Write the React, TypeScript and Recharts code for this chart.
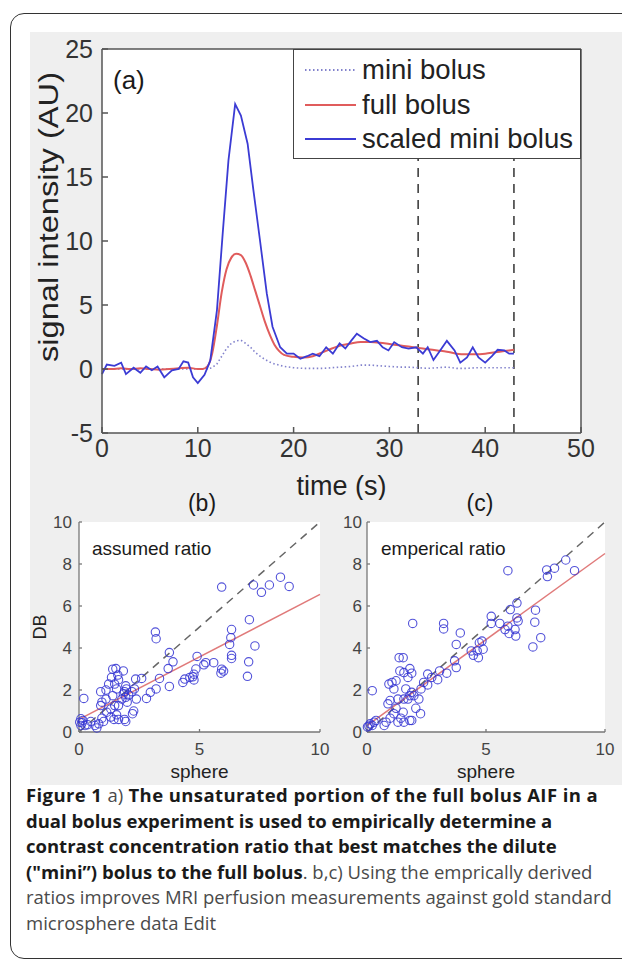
import React from 'react'
import {
  LineChart, Line, XAxis, YAxis, ReferenceLine, Legend, Label, CartesianGrid,
  ScatterChart, Scatter,
} from 'recharts'

// panel (a): signal intensity against time
const timeTicks = [0, 10, 20, 30, 40, 50]
const signalTicks = [-5, 0, 5, 10, 15, 20, 25]
const windowBounds = [33, 43]
const seriesNames = ['mini bolus', 'full bolus', 'scaled mini bolus']

const miniTime = [0, 2, 4, 6, 8, 10, 11, 11.5, 12, 12.5, 13, 13.5, 14, 14.5, 15, 15.5, 16, 16.5, 17, 17.5, 18,
  19, 20, 21, 22, 23, 24, 25, 26, 27, 28, 29, 30, 31, 32, 33, 34, 35, 36, 37, 38, 39, 40, 41, 42, 43]
const miniSignal = [0, 0, 0, 0, 0, 0, 0, 0.1, 0.4, 1.0, 1.6, 2.0, 2.2, 2.25, 2.0, 1.7, 1.3, 1.0, 0.75, 0.55, 0.4,
  0.2, 0.1, 0.05, 0.05, 0.05, 0.1, 0.15, 0.2, 0.3, 0.3, 0.25, 0.2, 0.15, 0.15, 0.1, 0.05, 0.1, 0.15, 0.05, 0.05, 0.1, 0.1, 0.1, 0.1, 0.1]

const fullTime = [0, 1, 2, 3, 4, 5, 6, 7, 8, 9, 10, 10.5, 11, 11.5, 12, 12.5, 13, 13.5, 14, 14.5, 15, 15.5, 16,
  16.5, 17, 17.5, 18, 18.5, 19, 20, 21, 22, 23, 24, 25, 26, 27, 28, 29, 30, 31, 32, 33, 34, 35, 36, 37, 38, 39, 40, 41, 42, 43]
const fullSignal = [0, 0, 0.05, 0, 0.05, 0, -0.05, 0, 0.05, 0.1, 0, 0, 0.2, 1.2, 3.4, 6.0, 7.8, 8.7, 9.0, 8.9, 8.3, 7.3, 6.1,
  4.9, 3.7, 2.7, 1.9, 1.4, 1.1, 0.95, 0.9, 1.0, 1.3, 1.6, 1.85, 2.0, 2.1, 2.1, 2.05, 1.95, 1.85, 1.75, 1.65, 1.55, 1.45, 1.35,
  1.2, 1.15, 1.15, 1.2, 1.3, 1.4, 1.5]

const scaledTime = [0, 0.5, 1.3, 2, 2.5, 3.3, 4, 4.6, 5.2, 5.8, 6.5, 7.3, 8, 8.5, 9, 9.5, 10, 10.7, 11.3, 12,
  12.6, 13.2, 13.9, 14.5, 15.2, 15.8, 16.5, 17.2, 17.8, 18.6, 19.3, 20, 20.7, 21.4, 22, 22.7, 23.4, 24.1, 24.8, 25.4,
  26, 26.6, 27.3, 28, 28.7, 29.3, 29.9, 30.5, 31.3, 32, 32.8, 33.5, 34, 34.6, 35.3, 36, 36.8, 37.4, 38.1, 38.7,
  39.3, 40, 40.7, 41.3, 42, 42.5, 43]
const scaledSignal = [-0.4, 0.35, 0.25, 0.5, -0.4, 0.1, -0.3, 0.2, -0.1, 0.2, -0.65, -0.1, 0, 0.6, 0.5, -0.65, -1.1, -0.45, 0.65, 4.6,
  10.6, 16.3, 20.7, 19.8, 17.6, 14, 10, 5.9, 3.3, 1.7, 1.2, 1.2, 0.8, 1.0, 1.2, 1.0, 1.7, 1.2, 2.0, 1.6,
  2.2, 2.75, 2.4, 2.1, 2.2, 1.7, 1.45, 2.1, 1.7, 1.6, 1.7, 1.2, 1.7, 0.7, 1.45, 2.2, 1.45, 0.5, 0.9, 1.7,
  0.9, 0.5, 1.0, 1.5, 1.45, 1.2, 1.2]

// panels (b) and (c): DB against sphere
const sphereTicks = [0, 5, 10]
const dbTicks = [0, 2, 4, 6, 8, 10]
const identityLine = [0, 10]

const assumedSphere = [5.92, 7.24, 7.57, 7.9, 8.36, 8.72, 7.07, 6.33, 6.3, 6.25,
  7.3, 7.04, 6.99, 6.33, 6.33, 5.92, 5.89, 6.0, 5.59, 5.26,
  5.18, 4.9, 4.85, 4.77, 4.72, 4.6, 4.39, 4.31, 4.77, 3.17,
  3.2, 3.75, 3.9, 3.7, 3.75, 3.34, 3.2, 2.96, 2.8, 2.6,
  2.35, 2.3, 2.2, 2.38, 2.27, 2.22, 1.94, 1.89, 1.84, 1.89,
  1.97, 1.94, 1.84, 1.61, 1.53, 1.4, 1.35, 1.48, 1.64, 1.56,
  1.4, 1.78, 1.94, 2.06, 2.0, 1.64, 1.48, 1.32, 1.12, 0.9,
  1.12, 1.23, 0.95, 0.9, 1.15, 0.95, 1.32, 1.56, 1.64, 1.45,
  1.02, 0.82, 0.66, 0.74, 0.49, 0.36, 0.2, 0.13, 0.08, 0.16,
  0.25, 0.08, 0.03]
const assumedDB = [6.9, 7.0, 6.65, 7.0, 7.37, 6.93, 5.35, 4.88, 4.49, 4.17,
  4.1, 3.34, 2.65, 3.65, 3.5, 2.99, 2.8, 2.9, 3.3, 3.3,
  3.2, 3.6, 3.0, 2.75, 2.63, 2.6, 2.52, 2.36, 2.48, 4.76,
  4.44, 3.78, 3.34, 3.02, 2.17, 2.55, 2.05, 1.89, 1.6, 2.55,
  2.52, 2.05, 1.92, 1.57, 1.0, 0.87, 0.5, 0.6, 1.81, 1.92,
  2.05, 2.2, 2.91, 2.71, 3.02, 2.99, 2.6, 2.28, 2.49, 2.05,
  1.73, 1.57, 1.65, 1.76, 1.42, 1.26, 1.26, 1.1, 1.57, 1.92,
  2.0, 2.28, 1.42, 1.26, 0.94, 0.66, 0.71, 0.82, 0.6, 0.6,
  0.5, 0.39, 0.31, 0.19, 0.5, 0.35, 1.6, 0.44, 0.63, 0.55,
  0.31, 0.31, 0.47]
const assumedFit = [0.6, 6.55] // DB at sphere = 0 and 10

const empiricalSphere = [7.55, 5.92, 7.88, 8.35, 8.72, 7.58, 7.08, 7.05, 7.3, 6.97,
  6.3, 6.02, 6.3, 6.35, 6.22, 6.25, 5.92, 5.8, 5.97, 5.58,
  5.22, 5.22, 4.83, 4.72, 4.88, 4.63, 4.38, 4.68, 4.47, 3.22,
  3.22, 1.92, 3.92, 3.75, 3.68, 3.75, 3.35, 3.05, 2.97, 2.72,
  2.55, 2.38, 2.27, 2.55, 2.18, 2.25, 2.05, 1.8, 1.88, 1.52,
  1.42, 1.55, 1.3, 1.35, 1.52, 1.38, 1.55, 1.8, 1.88, 1.72,
  1.22, 1.05, 0.92, 1.13, 1.63, 1.88, 1.8, 1.97, 1.72, 1.55,
  1.3, 0.97, 0.88, 1.22, 1.13, 0.97, 0.8, 0.72, 0.22, 0.3,
  0.13, 0.08, 0.22, 0.02, 0.38]
const empiricalDB = [7.72, 7.68, 7.8, 8.19, 7.68, 7.4, 5.8, 5.23, 4.49, 4.05,
  6.14, 5.83, 5.43, 5.28, 4.88, 4.57, 5.04, 4.88, 4.69, 5.17,
  5.17, 5.51, 4.33, 4.25, 3.94, 3.86, 3.86, 3.54, 3.65, 5.17,
  4.91, 5.17, 4.72, 4.17, 3.39, 3.07, 2.8, 2.91, 2.49, 2.6,
  2.76, 2.36, 2.05, 2.24, 1.57, 0.87, 1.13, 0.55, 0.55, 0.94,
  0.66, 0.47, 0.47, 3.54, 3.54, 2.91, 2.83, 3.02, 2.8, 2.6,
  2.44, 2.36, 2.28, 2.05, 2.05, 1.89, 1.73, 1.73, 1.57, 1.57,
  1.57, 1.5, 1.34, 1.13, 0.87, 0.66, 0.47, 0.31, 1.97, 0.47,
  0.39, 0.28, 0.31, 0.24, 0.55]
const empiricalFit = [0.3, 8.5]

const SANS = '"Liberation Sans", Arial, sans-serif'
const CAPTION_FONT = '"Open Sans", "Noto Sans", sans-serif'
const AXIS = '#555'
const tickA = { fill: '#333', fontSize: 25, fontFamily: SANS }
const tickS = { fill: '#444', fontSize: 17, fontFamily: SANS }

const series = (ts: number[], vs: number[]) => ts.map((t, i) => ({ t, v: vs[i] }))
const points = (xs: number[], ys: number[]) => xs.map((x, i) => ({ x, y: ys[i] }))

function AifLegend(props: any) {
  const items = props.payload || []
  return (
    <div style={{
      width: 288, height: 110, boxSizing: 'border-box', background: '#fff',
      border: '1.5px solid #444', paddingTop: 3, fontFamily: SANS,
    }}>
      {items.map((it: any) => (
        <div key={it.value} style={{ display: 'flex', alignItems: 'center', height: 34.5 }}>
          <svg width={62} height={10} style={{ marginLeft: 11 }}>
            <line x1={0} y1={5} x2={51} y2={5} stroke={it.color} strokeWidth={2}
              strokeDasharray={it.payload?.strokeDasharray} />
          </svg>
          <span style={{ fontSize: 27.5, color: '#222', marginLeft: -5 }}>{it.value}</span>
        </div>
      ))}
    </div>
  )
}

function AifPanel() {
  return (
    <div style={{ position: 'absolute', left: 0, top: 0 }}>
      <LineChart width={622} height={500} margin={{ top: 19, right: 31, bottom: 0, left: 62 }}>
        <CartesianGrid horizontal={false} vertical={false} fill="#fff" />
        <XAxis type="number" dataKey="t" domain={[0, 50]} ticks={timeTicks} height={67}
          stroke={AXIS} strokeWidth={1.5} tickSize={-6} tickMargin={12.5} tick={tickA}>
          <Label value="time (s)" position="insideBottom" offset={5} fill="#222" fontSize={27} fontFamily={SANS} />
        </XAxis>
        <XAxis xAxisId="top" orientation="top" type="number" domain={[0, 50]} ticks={timeTicks} height={30}
          stroke={AXIS} strokeWidth={1.5} tickSize={-6} tick={false} />
        <YAxis type="number" domain={[-5, 25]} ticks={signalTicks} width={40}
          stroke={AXIS} strokeWidth={1.5} tickSize={-6} tickMargin={15} tick={tickA}>
          <Label value="signal intensity (AU)" angle={-90} position="insideLeft" offset={-14} dy={-24}
            textLength={290} lengthAdjust="spacingAndGlyphs"
            style={{ textAnchor: 'middle' }} fill="#222" fontSize={27} fontFamily={SANS} />
        </YAxis>
        <YAxis yAxisId="right" orientation="right" type="number" domain={[-5, 25]} ticks={signalTicks} width={10}
          stroke={AXIS} strokeWidth={1.5} tickSize={-6} tick={false} />
        {windowBounds.map(t => (
          <ReferenceLine key={t} x={t} stroke="#333" strokeWidth={1.5} strokeDasharray="9 7" />
        ))}
        <Line data={series(miniTime, miniSignal)} dataKey="v" name={seriesNames[0]} stroke="#8282cc"
          strokeWidth={1.6} strokeDasharray="1.5 2.5" dot={false} isAnimationActive={false} />
        <Line data={series(fullTime, fullSignal)} dataKey="v" name={seriesNames[1]} stroke="#e05c5c"
          strokeWidth={2} type="monotone" dot={false} isAnimationActive={false} />
        <Line data={series(scaledTime, scaledSignal)} dataKey="v" name={seriesNames[2]} stroke="#3b3bd4"
          strokeWidth={1.8} dot={false} isAnimationActive={false} />
        <Legend layout="vertical" verticalAlign="middle" align="center" content={AifLegend}
          itemSorter={(item: any) => seriesNames.indexOf(item.value)}
          wrapperStyle={{ left: 293, top: 49, width: 288, height: 110 }} />
      </LineChart>
    </div>
  )
}

const Ring = (p: any) => (
  <circle cx={p.cx} cy={p.cy} r={4.2} fill="none" stroke="#3434d2" strokeWidth={1.1} strokeOpacity={0.85} />
)

function RatioPanel(props: {
  left: number, width: number, marginLeft: number, marginRight: number, tickGap: number,
  sphere: number[], db: number[], fit: number[], yLabel?: string,
}) {
  const { left, width, marginLeft, marginRight, tickGap, sphere, db, fit, yLabel } = props
  return (
    <div style={{ position: 'absolute', left, top: 490 }}>
      <ScatterChart width={width} height={300} margin={{ top: 32, right: marginRight, bottom: 0, left: marginLeft }}>
        <CartesianGrid horizontal={false} vertical={false} fill="#fff" />
        <XAxis type="number" dataKey="x" domain={[0, 10]} ticks={sphereTicks} height={58}
          stroke="#777" strokeWidth={1.3} tickSize={-3} tickMargin={14} tick={tickS}>
          <Label value="sphere" position="insideBottom" offset={12} fill="#222" fontSize={19} fontFamily={SANS} />
        </XAxis>
        <YAxis type="number" dataKey="y" domain={[0, 10]} ticks={dbTicks} width={30}
          stroke="#777" strokeWidth={1.3} tickSize={-3} tickMargin={tickGap} tick={tickS}>
          {yLabel && (
            <Label value={yLabel} angle={-90} position="insideLeft" offset={-9}
              style={{ textAnchor: 'middle' }} fill="#222" fontSize={18} fontFamily={SANS} />
          )}
        </YAxis>
        <ReferenceLine segment={[{ x: identityLine[0], y: identityLine[0] }, { x: identityLine[1], y: identityLine[1] }]}
          stroke="#666" strokeWidth={1.5} strokeDasharray="8 6" />
        <ReferenceLine segment={[{ x: 0, y: fit[0] }, { x: 10, y: fit[1] }]} stroke="#e07a7a" strokeWidth={1.5} />
        <Scatter data={points(sphere, db)} shape={Ring} isAnimationActive={false} />
      </ScatterChart>
    </div>
  )
}

function Tag(props: { x: number, y: number, size: number, center?: boolean, children: React.ReactNode }) {
  return (
    <div style={{
      position: 'absolute', left: props.x, top: props.y, fontSize: props.size, lineHeight: 1,
      transform: props.center ? 'translate(-50%, -50%)' : 'translateY(-50%)', whiteSpace: 'nowrap',
      color: '#1a1a1a', fontFamily: SANS,
    }}>{props.children}</div>
  )
}

function Caption() {
  const line: React.CSSProperties = { whiteSpace: 'nowrap', height: 25.5 }
  const plain: React.CSSProperties = { fontWeight: 400, color: '#4a4a4a', letterSpacing: 0 }
  return (
    <div style={{
      position: 'absolute', left: 26, top: 782, fontFamily: CAPTION_FONT, fontSize: 18.5,
      lineHeight: '25.5px', color: '#1a1a1a', fontWeight: 700,
    }}>
      <div style={{ ...line, letterSpacing: 0.4 }}>Figure 1 <span style={plain}>a)</span> The unsaturated portion of the full bolus AIF in a</div>
      <div style={line}>dual bolus experiment is used to empirically determine a</div>
      <div style={line}>contrast concentration ratio that best matches the dilute</div>
      <div style={line}>("mini”) bolus to the full bolus<span style={plain}>. b,c) Using the emprically derived</span></div>
      <div style={{ ...line, ...plain }}>ratios improves MRI perfusion measurements against gold standard</div>
      <div style={{ ...line, ...plain }}>microsphere data Edit</div>
    </div>
  )
}

export default function App() {
  return (
    <div style={{
      position: 'absolute', left: 0, top: 0, width: 622, height: 962, background: '#fff',
      overflow: 'hidden', fontFamily: SANS,
    }}>
      <div style={{
        position: 'absolute', left: 10, top: 13, width: 660, height: 944,
        border: '1.5px solid #333', borderRadius: 14,
      }} />
      <div style={{ position: 'absolute', left: 30, top: 32, width: 600, height: 753, background: '#efefef' }} />
      <AifPanel />
      <Tag x={113} y={80} size={26}>(a)</Tag>
      <RatioPanel left={0} width={330} marginLeft={49} marginRight={10} tickGap={10}
        sphere={assumedSphere} db={assumedDB} fit={assumedFit} yLabel="DB" />
      <RatioPanel left={330} width={292} marginLeft={7} marginRight={17} tickGap={8}
        sphere={empiricalSphere} db={empiricalDB} fit={empiricalFit} />
      <Tag x={202} y={503} size={23} center>(b)</Tag>
      <Tag x={480} y={503} size={23} center>(c)</Tag>
      <Tag x={92} y={548} size={19}>assumed ratio</Tag>
      <Tag x={381} y={548} size={19}>emperical ratio</Tag>
      <Caption />
    </div>
  )
}
